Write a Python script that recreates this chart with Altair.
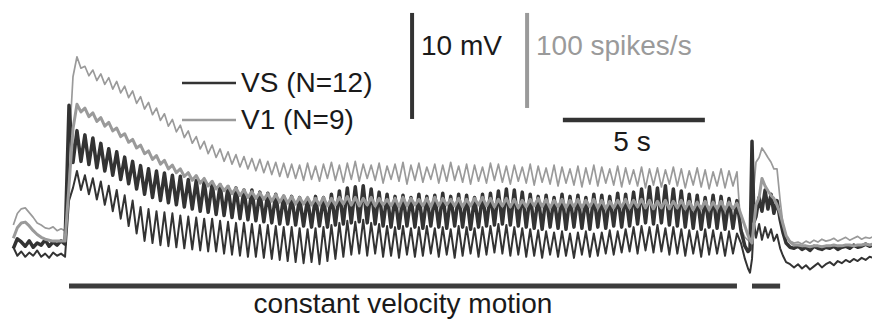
import altair as alt
import pandas as pd

# ---------------- data ----------------
DT = 0.14                 # s between successive samples (half a stimulus cycle)
SPS_TO_MV = 0.95 / 10.6   # 100 spikes/s bar is 0.9x the height of the 10 mV bar

# times (s) of the samples after the end of constant velocity motion
post_t = [23.66, 23.80, 23.91, 23.98, 24.05, 24.12, 24.19, 24.30, 24.40, 24.51,
          24.61, 24.72, 24.82, 24.93, 25.04, 25.14, 25.25, 25.39, 25.53,
          25.67, 25.81, 25.95, 26.09, 26.23, 26.37, 26.51, 26.65, 26.79, 26.93,
          27.07, 27.21, 27.35, 27.49, 27.63, 27.77, 27.91, 28.05, 28.19, 28.33]

# ---- VS mean (mV, relative to rest) ----
vs_mean_base = [-0.5, 0.4, 0.1, -0.3, 0.2, -0.4, 0.0, -0.2, 0.3, -0.3, 0.1, -0.2, 0.2, -0.1]
vs_mean_peaks = [13.0, 10.6, 10.2, 9.9, 9.4, 8.9, 8.6, 8.1, 7.7, 7.3,
                 7.0, 6.8, 6.6, 6.4, 6.3, 6.0, 5.9, 5.8, 5.6, 5.5,
                 5.3, 5.2, 5.0, 5.0, 4.8, 4.7, 4.6, 4.4, 4.4, 4.3,
                 4.2, 4.4, 4.3, 4.6, 4.9, 5.2, 5.3, 5.4, 5.1, 4.8,
                 4.6, 4.4, 4.5, 4.3, 4.6, 4.4, 4.5, 4.7, 4.4, 4.6,
                 4.5, 4.3, 4.6, 4.7, 4.9, 5.1, 5.0, 4.8, 4.6, 4.4,
                 4.5, 4.3, 4.6, 4.4, 4.5, 4.3, 4.6, 4.5, 4.4, 4.7,
                 4.6, 4.8, 5.1, 5.3, 5.2, 5.4, 5.1, 4.9, 4.6, 4.5,
                 4.3, 4.5, 4.4, 4.2, 4.0]
vs_mean_troughs = [7.6, 7.7, 7.4, 7.1, 6.8, 6.4, 6.0, 5.6, 5.1, 4.6,
                   4.3, 4.0, 3.8, 3.6, 3.4, 3.2, 3.0, 2.9, 2.7, 2.6,
                   2.4, 2.3, 2.2, 2.1, 2.0, 1.9, 1.8, 1.8, 1.7, 1.6,
                   1.5, 1.6, 1.5, 1.7, 1.8, 1.9, 2.0, 1.9, 1.8, 1.6,
                   1.5, 1.4, 1.6, 1.5, 1.4, 1.6, 1.5, 1.4, 1.6, 1.5,
                   1.3, 1.5, 1.6, 1.7, 1.8, 1.7, 1.6, 1.5, 1.4, 1.3,
                   1.5, 1.4, 1.3, 1.5, 1.4, 1.3, 1.5, 1.4, 1.6, 1.5,
                   1.6, 1.8, 1.9, 1.8, 1.9, 1.7, 1.6, 1.5, 1.4, 1.3,
                   1.5, 1.4, 1.3, 1.4]
vs_mean_post = [1.2, -0.3, -0.8, -0.6, 9.6, 2.0, 2.5, 4.3, 3.0, 5.0,
                3.2, 4.6, 2.8, 4.0, 2.2, 1.0, 0.0, -0.4, -0.5,
                -0.3, -0.6, -0.4, -0.7, -0.3, -0.5, -0.6, -0.4, -0.5, -0.3,
                -0.6, -0.4, -0.3, -0.5, -0.2, -0.4, -0.3, -0.1, -0.3, -0.2]

# ---- VS lower bound (mV) ----
vs_low_base = [-0.4, -1.2, -0.8, -1.3, -0.9, -1.2, -0.7, -1.3, -1.0, -1.4, -0.9, -1.2, -1.0, -1.3]
vs_low_peaks = [4.0, 6.8, 6.4, 6.1, 5.8, 5.4, 5.0, 4.5, 4.0, 3.4,
                3.2, 3.0, 2.9, 2.8, 2.6, 2.5, 2.4, 2.3, 2.3, 2.1,
                2.0, 1.9, 1.9, 1.8, 1.7, 1.7, 1.6, 1.5, 1.5, 1.4,
                1.3, 1.4, 1.5, 1.7, 1.9, 2.1, 2.0, 2.2, 1.9, 1.8,
                1.6, 1.5, 1.6, 1.4, 1.5, 1.6, 1.4, 1.5, 1.3, 1.6,
                1.5, 1.4, 1.5, 1.6, 1.8, 1.7, 1.5, 1.4, 1.3, 1.2,
                1.1, 1.0, 1.1, 0.9, 1.0, 1.1, 0.9, 1.0, 1.2, 1.1,
                1.3, 1.5, 1.6, 1.5, 1.7, 1.4, 1.5, 1.3, 1.2, 1.1,
                1.3, 1.2, 1.0, 1.1, 0.9]
vs_low_troughs = [5.2, 5.0, 4.6, 4.1, 3.6, 3.0, 2.3, 1.6, 0.9, 0.2,
                  0.0, -0.2, -0.3, -0.4, -0.5, -0.6, -0.7, -0.8, -0.8, -1.0,
                  -1.1, -1.2, -1.3, -1.3, -1.4, -1.5, -1.6, -1.7, -1.8, -1.9,
                  -1.8, -2.0, -1.7, -1.5, -1.3, -1.1, -1.0, -1.2, -1.0, -1.3,
                  -1.2, -1.4, -1.1, -1.3, -1.2, -1.0, -1.3, -1.1, -1.4, -1.2,
                  -1.0, -1.3, -1.1, -0.9, -1.0, -1.2, -1.1, -1.3, -1.2, -1.4,
                  -1.1, -1.3, -1.2, -1.4, -1.1, -1.3, -1.2, -1.0, -1.1, -0.9,
                  -0.8, -1.0, -0.7, -0.9, -0.8, -1.1, -1.0, -1.2, -1.0, -1.3,
                  -1.1, -1.0, -1.2, -1.0]
vs_low_post = [0.0, -1.5, -2.4, -2.8, -1.5, 2.0, 0.5, 1.8, 0.3, 1.5,
               0.5, 1.3, 0.2, 0.8, -0.5, -1.2, -1.8, -2.0, -2.3,
               -2.0, -2.4, -2.1, -2.5, -2.2, -1.9, -2.3, -2.0, -1.8, -2.1,
               -1.7, -1.9, -1.6, -1.8, -1.5, -1.7, -1.4, -1.6, -1.3, -1.4]

# ---- V1 mean (spikes/s, relative to rest) ----
v1_mean_base = [5, 16, 21, 22, 18, 13, 9, 6, 4, 3, 2, 2, 2, 2]
v1_mean_peaks = [60, 146, 142, 137, 132, 127, 121, 115, 109, 103,
                 97, 92, 87, 82, 78, 74, 71, 68, 65, 62,
                 60, 58, 56, 54, 53, 52, 51, 50, 49, 48,
                 48, 47, 48, 47, 48, 49, 48, 47, 48, 47,
                 46, 47, 48, 47, 46, 47, 48, 47, 46, 47,
                 46, 47, 48, 47, 46, 47, 46, 45, 46, 47,
                 46, 45, 46, 45, 46, 45, 46, 45, 44, 45,
                 46, 45, 46, 45, 44, 45, 44, 45, 44, 43,
                 44, 43, 44, 43, 42]
v1_mean_troughs = [120, 138, 133, 128, 123, 118, 112, 106, 100, 94,
                   88, 83, 78, 74, 70, 66, 63, 60, 57, 55,
                   52, 50, 48, 47, 46, 44, 43, 42, 41, 41,
                   40, 40, 39, 40, 41, 40, 39, 40, 39, 40,
                   39, 38, 39, 40, 39, 38, 39, 40, 39, 38,
                   39, 40, 39, 38, 39, 38, 37, 38, 39, 38,
                   37, 38, 37, 38, 37, 38, 37, 36, 37, 38,
                   37, 38, 37, 36, 37, 36, 37, 36, 35, 36,
                   35, 36, 35, 36]
v1_mean_post = [30, 18, 8, 3, 0, 20, 40, 48, 68, 60,
                55, 50, 47, 40, 31, 20, 8, 1, -2,
                -2, -3, -3, -4, -3, -3, -4, -3, -3, -2,
                -3, -3, -2, -2, -3, -2, -2, -1, -2, -1]

# ---- V1 upper bound (spikes/s) ----
v1_up_base = [19, 31, 36, 37, 32, 27, 21, 19, 16, 15, 17, 13, 15, 13]
v1_up_peaks = [100, 196, 186, 182, 178, 174, 170, 165, 160, 154,
               148, 142, 136, 130, 124, 118, 112, 107, 103, 99,
               96, 93, 91, 89, 88, 86, 85, 84, 83, 82,
               84, 81, 83, 85, 82, 84, 86, 83, 82, 84,
               81, 83, 85, 82, 84, 80, 83, 82, 85, 81,
               83, 82, 80, 84, 83, 81, 82, 80, 83, 81,
               79, 82, 80, 78, 81, 79, 82, 80, 78, 81,
               79, 77, 80, 78, 79, 77, 80, 78, 76, 79,
               77, 75, 78, 76, 75]
v1_up_troughs = [175, 184, 176, 171, 167, 162, 158, 153, 147, 141,
                 135, 129, 123, 117, 111, 105, 99, 94, 90, 86,
                 83, 80, 78, 76, 74, 72, 70, 69, 68, 66,
                 67, 65, 68, 66, 64, 67, 65, 68, 66, 63,
                 67, 65, 62, 66, 64, 67, 63, 65, 66, 64,
                 62, 65, 63, 66, 64, 62, 65, 63, 61, 64,
                 62, 60, 63, 61, 59, 62, 60, 63, 61, 59,
                 62, 60, 58, 61, 59, 62, 60, 58, 61, 59,
                 57, 60, 58, 60]
v1_up_post = [15, 6, 3, 2, 10, 60, 85, 90, 100, 95,
              90, 85, 78, 78, 45, 20, 8, 2, 0,
              1, -1, 2, 0, 3, 1, 4, 2, 3, 5,
              2, 4, 6, 3, 5, 7, 4, 6, 5, 7]

# stimulus epochs (s)
motion_epochs = [(0.0, 23.52), (24.05, 25.04)]

# ---------------- build tables ----------------
def interleave(peaks, troughs):
    out = []
    for p, q in zip(peaks, troughs):
        out += [p, q]
    out.append(peaks[-1])
    return out


def trace(name, base, peaks, troughs, post, scale=1.0):
    t = [-DT * (len(base) - k) for k in range(len(base))]
    t += [DT * i for i in range(2 * len(troughs) + 1)]
    t += post_t
    vals = list(base) + interleave(peaks, troughs) + list(post)
    return pd.DataFrame({"t": t, "y": [v * scale for v in vals], "trace": name})


df_vs_mean = trace("VS mean", vs_mean_base, vs_mean_peaks, vs_mean_troughs, vs_mean_post)
df_vs_low = trace("VS low", vs_low_base, vs_low_peaks, vs_low_troughs, vs_low_post)
df_v1_mean = trace("V1 mean", v1_mean_base, v1_mean_peaks, v1_mean_troughs, v1_mean_post, SPS_TO_MV)
df_v1_up = trace("V1 up", v1_up_base, v1_up_peaks, v1_up_troughs, v1_up_post, SPS_TO_MV)

DARK = "#333333"
GREY = "#9a9a9a"
FONT = "Liberation Sans"

xs = alt.Scale(domain=[-2.43, 28.275], nice=False, zero=False)
ys = alt.Scale(domain=[-7.26, 22.92], nice=False, zero=False)


def line(df, color, width):
    return alt.Chart(df).mark_line(color=color, strokeWidth=width, strokeJoin="round").encode(
        x=alt.X("t:Q", scale=xs, axis=None),
        y=alt.Y("y:Q", scale=ys, axis=None),
        order="t:Q",
    )


def one():
    return pd.DataFrame({"a": [0]})


def text(label, x, y, color="#1a1a1a", align="left"):
    return alt.Chart(one()).mark_text(
        text=label, align=align, baseline="alphabetic", fontSize=28, font=FONT, color=color
    ).encode(x=alt.value(x), y=alt.value(y))


layers = [
    line(df_v1_up, GREY, 1.7),
    line(df_vs_low, DARK, 2.0),
    line(df_vs_mean, DARK, 3.5),
    line(df_v1_mean, GREY, 3.0),
]

# stimulus bars
ep = pd.DataFrame({"t": [a for a, b in motion_epochs], "t2": [b for a, b in motion_epochs], "y": [-4.06] * 2})
layers.append(
    alt.Chart(ep).mark_rule(color="#3c3c3c", strokeWidth=5).encode(
        x=alt.X("t:Q", scale=xs, axis=None), x2="t2:Q", y=alt.Y("y:Q", scale=ys, axis=None)
    )
)

# scale bars: 5 s, 10 mV, 100 spikes/s
sb_time = pd.DataFrame({"t": [17.39], "t2": [17.39 + 5.0], "y": [11.6]})
layers.append(
    alt.Chart(sb_time).mark_rule(color=DARK, strokeWidth=4.5).encode(
        x=alt.X("t:Q", scale=xs, axis=None), x2="t2:Q", y=alt.Y("y:Q", scale=ys, axis=None)
    )
)
sb_mv = pd.DataFrame({"t": [12.08], "y": [21.7 - 10.0], "y2": [21.7]})
layers.append(
    alt.Chart(sb_mv).mark_rule(color=DARK, strokeWidth=4).encode(
        x=alt.X("t:Q", scale=xs, axis=None), y=alt.Y("y:Q", scale=ys, axis=None), y2="y2:Q"
    )
)
sb_sps = pd.DataFrame({"t": [16.13], "y": [21.7 - 100 * SPS_TO_MV], "y2": [21.7]})
layers.append(
    alt.Chart(sb_sps).mark_rule(color=GREY, strokeWidth=4).encode(
        x=alt.X("t:Q", scale=xs, axis=None), y=alt.Y("y:Q", scale=ys, axis=None), y2="y2:Q"
    )
)

# legend
layers.append(alt.Chart(one()).mark_rule(color=DARK, strokeWidth=2.5).encode(
    x=alt.value(182), x2=alt.value(236), y=alt.value(83)))
layers.append(alt.Chart(one()).mark_rule(color=GREY, strokeWidth=2.5).encode(
    x=alt.value(182), x2=alt.value(236), y=alt.value(120)))
layers.append(text("VS (N=12)", 241, 92))
layers.append(text("V1 (N=9)", 241, 129))

# scale-bar labels and stimulus label
layers.append(text("10 mV", 421, 55))
layers.append(text("100 spikes/s", 536, 55, color=GREY))
layers.append(text("5 s", 632, 151, align="center"))
layers.append(text("constant velocity motion", 403, 313, align="center"))

chart = alt.layer(*layers).properties(
    width=872, height=320, padding=0, autosize="none"
).configure_view(stroke=None)

chart.save("out.html", embed_options={"renderer": "svg", "actions": False})
